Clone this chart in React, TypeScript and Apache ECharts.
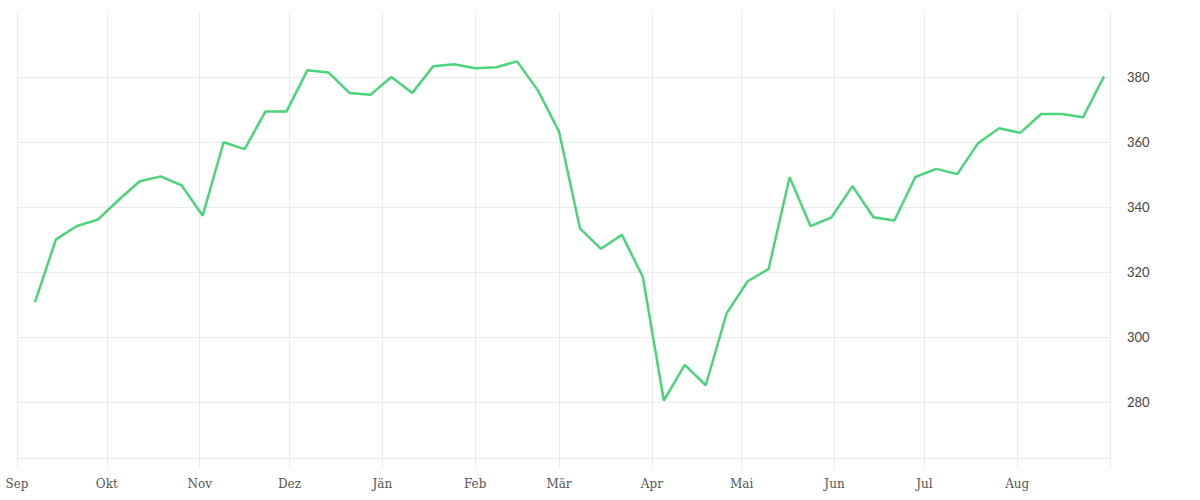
import React, { useEffect, useRef } from "react";
import * as echarts from "echarts";

const dates: string[] = [
  "2018-09-07", "2018-09-14", "2018-09-21", "2018-09-28",
  "2018-10-05", "2018-10-12", "2018-10-19", "2018-10-26",
  "2018-11-02", "2018-11-09", "2018-11-16", "2018-11-23", "2018-11-30",
  "2018-12-07", "2018-12-14", "2018-12-21", "2018-12-28",
  "2019-01-04", "2019-01-11", "2019-01-18", "2019-01-25",
  "2019-02-01", "2019-02-08", "2019-02-15", "2019-02-22",
  "2019-03-01", "2019-03-08", "2019-03-15", "2019-03-22", "2019-03-29",
  "2019-04-05", "2019-04-12", "2019-04-19", "2019-04-26",
  "2019-05-03", "2019-05-10", "2019-05-17", "2019-05-24", "2019-05-31",
  "2019-06-07", "2019-06-14", "2019-06-21", "2019-06-28",
  "2019-07-05", "2019-07-12", "2019-07-19", "2019-07-26",
  "2019-08-02", "2019-08-09", "2019-08-16", "2019-08-23", "2019-08-30",
];

const values: number[] = [
  310.7, 330.0, 334.1, 336.1,
  342.2, 347.9, 349.4, 346.6,
  337.3, 359.9, 357.8, 369.4, 369.4,
  382.1, 381.4, 375.1, 374.5,
  380.0, 375.1, 383.3, 383.9,
  382.7, 383.0, 384.8, 375.8,
  363.2, 333.4, 327.1, 331.4, 318.4,
  280.4, 291.4, 285.1, 307.3,
  317.1, 320.9, 349.1, 334.1, 336.8,
  346.4, 336.8, 335.8, 349.2,
  351.7, 350.1, 359.7, 364.2,
  362.8, 368.6, 368.6, 367.6, 380.2,
];

const monthStarts: string[] = [
  "2018-09-01", "2018-10-01", "2018-11-01", "2018-12-01",
  "2019-01-01", "2019-02-01", "2019-03-01", "2019-04-01",
  "2019-05-01", "2019-06-01", "2019-07-01", "2019-08-01", "2019-09-01",
];

const monthNames: string[] = [
  "Jän", "Feb", "Mär", "Apr", "Mai", "Jun", "Jul", "Aug", "Sep", "Okt", "Nov", "Dez",
];

const yTicks: number[] = [280, 300, 320, 340, 360, 380];

const toTs = (s: string) => {
  const [y, m, d] = s.split("-").map(Number);
  return Date.UTC(y, m - 1, d);
};

export default function App() {
  const ref = useRef<HTMLDivElement>(null);
  useEffect(() => {
    if (!ref.current) return;
    const chart = echarts.init(ref.current, undefined, { renderer: "svg" });
    const tickTs = monthStarts.map(toTs);
    const labelTs = tickTs.slice(0, tickTs.length - 1);
    chart.setOption({
      animation: false,
      grid: { left: 17, right: 90, top: 12, bottom: 42 },
      xAxis: {
        type: "value",
        min: tickTs[0],
        max: tickTs[tickTs.length - 1],
        axisLine: { show: true, lineStyle: { color: "#ebebeb", width: 1 } },
        axisTick: {
          show: true,
          length: 10,
          customValues: tickTs,
          lineStyle: { color: "#ebebeb", width: 1 },
        },
        splitLine: { show: true, lineStyle: { color: "#ebebeb", width: 1 } },
        axisLabel: {
          customValues: labelTs,
          margin: 20,
          color: "#555",
          fontFamily: "DejaVu Serif",
          fontSize: 12,
          formatter: (v: number) => monthNames[new Date(v).getUTCMonth()],
        },
      },
      yAxis: {
        type: "value",
        position: "right",
        min: 262.7,
        max: 400,
        axisLine: { show: false },
        axisTick: { show: false, customValues: yTicks },
        splitLine: { show: true, lineStyle: { color: "#ebebeb", width: 1 } },
        axisLabel: {
          customValues: yTicks,
          margin: 17,
          color: "#444",
          fontFamily: "Lato",
          fontSize: 13,
        },
      },
      series: [
        {
          type: "line",
          data: dates.map((d, i) => [toTs(d), values[i]]),
          showSymbol: false,
          symbol: "none",
          lineStyle: { color: "#4cd47b", width: 2.5 },
          itemStyle: { color: "#4cd47b" },
        },
      ],
    });
    return () => chart.dispose();
  }, []);
  return (
    <div
      ref={ref}
      style={{ position: "absolute", left: 0, top: 0, width: 1200, height: 500, background: "#fff" }}
    />
  );
}
